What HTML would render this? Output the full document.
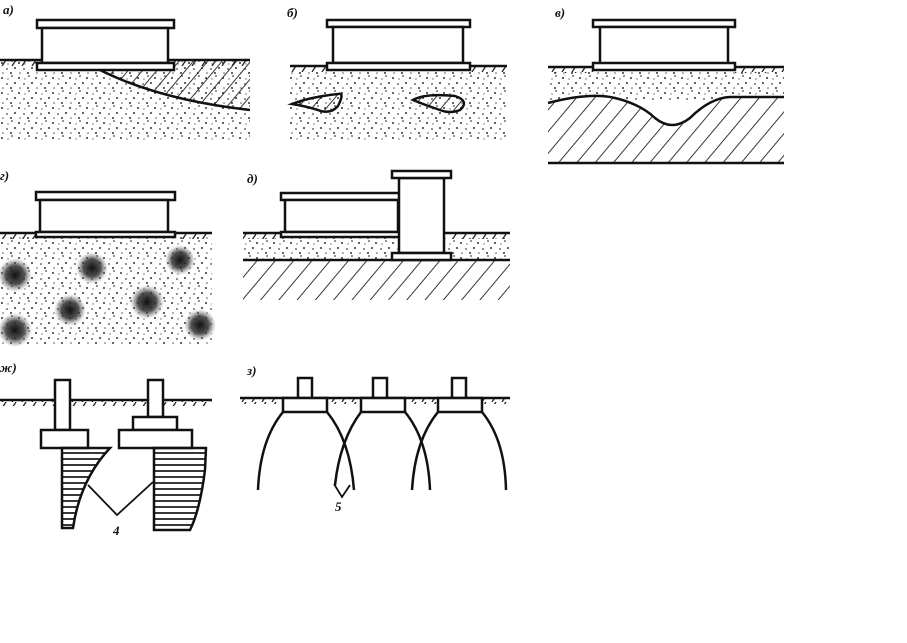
<!DOCTYPE html>
<html><head><meta charset="utf-8"><style>
html,body{margin:0;padding:0;background:#fff;}
svg{display:block}
text{font-family:"Liberation Serif",serif;font-style:italic;font-weight:bold;fill:#111}
</style></head><body>
<svg width="907" height="643" viewBox="0 0 907 643" xmlns="http://www.w3.org/2000/svg">
<defs>
<pattern id="st" width="17" height="15" patternUnits="userSpaceOnUse">
<circle cx="2" cy="3" r="1" fill="#333"/><circle cx="12" cy="1" r="0.9" fill="#444"/>
<circle cx="15" cy="8" r="1" fill="#333"/><circle cx="7" cy="9" r="0.9" fill="#444"/>
<circle cx="11" cy="13" r="1" fill="#333"/><circle cx="3" cy="13" r="0.8" fill="#555"/>
<circle cx="8" cy="4" r="0.7" fill="#666"/>
</pattern>
<pattern id="gt" width="10" height="6" patternUnits="userSpaceOnUse">
<line x1="2" y1="6" x2="6" y2="0" stroke="#222" stroke-width="1.3"/>
</pattern>
<pattern id="hat" width="11" height="11" patternUnits="userSpaceOnUse" patternTransform="rotate(40)">
<line x1="0" y1="0" x2="0" y2="11" stroke="#222" stroke-width="1.8"/>
</pattern>
<pattern id="hat2" width="14" height="14" patternUnits="userSpaceOnUse" patternTransform="rotate(40)">
<line x1="0" y1="0" x2="0" y2="14" stroke="#222" stroke-width="1.8"/>
</pattern>
<pattern id="hz" width="10" height="6" patternUnits="userSpaceOnUse">
<line x1="0" y1="3" x2="10" y2="3" stroke="#222" stroke-width="1.8"/>
</pattern>
<radialGradient id="bl"><stop offset="0" stop-color="#111"/><stop offset="0.55" stop-color="#333" stop-opacity="0.85"/><stop offset="1" stop-color="#888" stop-opacity="0"/></radialGradient>
</defs>
<g stroke="#111" stroke-width="2.5" fill="none">
<!-- ground ticks -->
<g stroke="none">
<rect x="0" y="60" width="37" height="6" fill="url(#gt)"/><rect x="174" y="60" width="76" height="6" fill="url(#gt)"/>
<rect x="290" y="66" width="37" height="6" fill="url(#gt)"/><rect x="470" y="66" width="37" height="6" fill="url(#gt)"/>
<rect x="548" y="67" width="45" height="6" fill="url(#gt)"/><rect x="735" y="67" width="49" height="6" fill="url(#gt)"/>
<rect x="0" y="233" width="36" height="6" fill="url(#gt)"/><rect x="175" y="233" width="37" height="6" fill="url(#gt)"/>
<rect x="243" y="233" width="38" height="6" fill="url(#gt)"/><rect x="451" y="233" width="59" height="6" fill="url(#gt)"/>
<rect x="0" y="400" width="212" height="6" fill="url(#gt)"/>
<rect x="240" y="398" width="270" height="6" fill="url(#gt)"/>
</g>
<!-- а -->
<rect x="0" y="60" width="250" height="82" fill="url(#st)" stroke="none"/>
<path d="M100 70 Q160 100 250 110 L250 60 L174 60 L174 70 Z" fill="url(#hat)" stroke="none"/>
<path d="M100 70 Q160 100 250 110"/>
<line x1="0" y1="60" x2="250" y2="60"/>
<rect x="37" y="20" width="137" height="8" fill="#fff"/>
<rect x="42" y="28" width="126" height="35" fill="#fff"/>
<rect x="37" y="63" width="137" height="7" fill="#fff"/>
<!-- б -->
<rect x="290" y="70" width="217" height="72" fill="url(#st)" stroke="none"/>
<line x1="290" y1="66" x2="507" y2="66"/>
<rect x="327" y="20" width="143" height="7" fill="#fff"/>
<rect x="333" y="27" width="130" height="36" fill="#fff"/>
<rect x="327" y="63" width="143" height="7" fill="#fff"/>
<path d="M292 104 Q310 97 338 94 Q345 92 338 106 Q330 115 318 110 Q305 106 292 104 Z" fill="url(#hat)"/>
<path d="M413 100 Q425 93 455 96 Q470 101 460 110 Q450 114 440 110 Q425 105 413 100 Z" fill="url(#hat)"/>
<!-- в -->
<rect x="548" y="70" width="236" height="30" fill="url(#st)" stroke="none"/>
<path d="M548 103 Q590 92 615 98 Q640 104 655 118 Q672 132 690 118 Q710 98 730 97 L784 97 L784 163 L548 163 Z" fill="#fff" stroke="none"/>
<path d="M548 103 Q590 92 615 98 Q640 104 655 118 Q672 132 690 118 Q710 98 730 97 L784 97 L784 163 L548 163 Z" fill="url(#hat2)" stroke="none"/>
<path d="M548 103 Q590 92 615 98 Q640 104 655 118 Q672 132 690 118 Q710 98 730 97 L784 97"/>
<line x1="548" y1="163" x2="784" y2="163"/>
<line x1="548" y1="67" x2="784" y2="67"/>
<rect x="593" y="20" width="142" height="7" fill="#fff"/>
<rect x="600" y="27" width="128" height="38" fill="#fff"/>
<rect x="593" y="63" width="142" height="7" fill="#fff"/>
<!-- г -->
<rect x="0" y="235" width="212" height="110" fill="url(#st)" stroke="none"/>
<g stroke="none">
<circle cx="15" cy="275" r="17" fill="url(#bl)"/><circle cx="92" cy="268" r="16" fill="url(#bl)"/>
<circle cx="180" cy="260" r="15" fill="url(#bl)"/><circle cx="70" cy="310" r="16" fill="url(#bl)"/>
<circle cx="147" cy="302" r="17" fill="url(#bl)"/><circle cx="15" cy="330" r="17" fill="url(#bl)"/>
<circle cx="200" cy="325" r="16" fill="url(#bl)"/></g>
<line x1="0" y1="233" x2="212" y2="233"/>
<rect x="36" y="192" width="139" height="8" fill="#fff"/>
<rect x="40" y="200" width="128" height="32" fill="#fff"/>
<rect x="36" y="232" width="139" height="5" fill="#fff"/>
<!-- д -->
<rect x="243" y="238" width="267" height="22" fill="url(#st)" stroke="none"/>
<rect x="243" y="260" width="267" height="40" fill="url(#hat2)" stroke="none"/>
<line x1="243" y1="233" x2="510" y2="233"/>
<line x1="243" y1="260" x2="510" y2="260"/>
<rect x="281" y="193" width="119" height="7" fill="#fff"/>
<rect x="285" y="200" width="113" height="32" fill="#fff"/>
<rect x="281" y="232" width="119" height="5" fill="#fff"/>
<rect x="399" y="178" width="45" height="75" fill="#fff"/>
<rect x="392" y="171" width="59" height="7" fill="#fff"/>
<rect x="392" y="253" width="59" height="7" fill="#fff"/>
<!-- ж -->
<line x1="0" y1="400" x2="212" y2="400"/>
<rect x="55" y="380" width="15" height="50" fill="#fff"/>
<rect x="41" y="430" width="47" height="18" fill="#fff"/>
<path d="M62 448 L110 448 Q80 480 73 528 L62 528 Z" fill="url(#hz)"/>
<rect x="148" y="380" width="15" height="37" fill="#fff"/>
<rect x="133" y="417" width="44" height="13" fill="#fff"/>
<rect x="119" y="430" width="73" height="18" fill="#fff"/>
<path d="M154 448 L206 448 L205 470 Q200 510 190 530 L154 530 Z" fill="url(#hz)"/>
<polyline points="88,485 117,515 153,482" stroke-width="1.8"/>
<!-- з -->
<line x1="240" y1="398" x2="510" y2="398"/>
<rect x="298" y="378" width="14" height="20" fill="#fff"/>
<rect x="373" y="378" width="14" height="20" fill="#fff"/>
<rect x="452" y="378" width="14" height="20" fill="#fff"/>
<rect x="283" y="398" width="44" height="14" fill="#fff"/>
<rect x="361" y="398" width="44" height="14" fill="#fff"/>
<rect x="438" y="398" width="44" height="14" fill="#fff"/>
<path d="M283 412 Q260 440 258 490"/>
<path d="M327 412 Q350 440 354 490"/>
<path d="M361 412 Q340 440 335 485"/>
<path d="M405 412 Q428 440 430 490"/>
<path d="M438 412 Q415 440 412 490"/>
<path d="M482 412 Q505 440 506 490"/>
<polyline points="334,484 342,497 350,485" stroke-width="1.8"/>
</g>
<text x="3" y="14" font-size="13">а)</text>
<text x="287" y="17" font-size="13">б)</text>
<text x="555" y="17" font-size="13">в)</text>
<text x="0" y="180" font-size="13">г)</text>
<text x="247" y="183" font-size="13">д)</text>
<text x="0" y="372" font-size="13">ж)</text>
<text x="247" y="375" font-size="13">з)</text>
<text x="113" y="535" font-size="13">4</text>
<text x="335" y="511" font-size="13">5</text>
</svg>
</body></html>
